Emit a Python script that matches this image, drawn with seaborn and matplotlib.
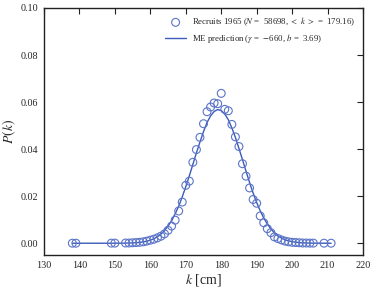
import matplotlib
matplotlib.use("Agg")
import matplotlib.pyplot as plt
import seaborn as sns
import pandas as pd

# ---- data ----
k_values = [138, 139, 149, 150, 153, 154, 155, 156, 157, 158, 159, 160, 161, 162,
            163, 164, 165, 166, 167, 168, 169, 170, 171, 172, 173, 174, 175, 176,
            177, 178, 179, 180, 181, 182, 183, 184, 185, 186, 187, 188, 189, 190,
            191, 192, 193, 194, 195, 196, 197, 198, 199, 200, 201, 202, 203, 204,
            205, 206, 209, 211]
p_observed = [0.00002, 0.00002, 0.00005, 0.00005, 0.0001, 0.0001, 0.0002, 0.0003,
              0.0004, 0.0006, 0.0009, 0.0013, 0.0017, 0.0023, 0.0030, 0.0040,
              0.0055, 0.0073, 0.0098, 0.0137, 0.0175, 0.0246, 0.0264, 0.0344,
              0.0398, 0.0450, 0.0508, 0.0559, 0.0579, 0.0596, 0.0593, 0.0637,
              0.0569, 0.0563, 0.0505, 0.0452, 0.0411, 0.0338, 0.0285, 0.0235,
              0.0186, 0.0170, 0.0116, 0.0087, 0.0062, 0.0045, 0.0027, 0.0020,
              0.0014, 0.0009, 0.0006, 0.0004, 0.0003, 0.0002, 0.0001, 0.0001,
              0.00005, 0.00005, 0.00002, 0.00002]
p_me = [0.0, 0.0, 0.000005, 0.00001, 0.00005, 0.00009, 0.00014, 0.00023, 0.00037,
        0.00058, 0.00088, 0.0013, 0.0019, 0.0027, 0.0039, 0.0054, 0.0073, 0.0095,
        0.0125, 0.0157, 0.0197, 0.0240, 0.0286, 0.0335, 0.0384, 0.0430, 0.0474,
        0.0513, 0.0541, 0.0560, 0.0568, 0.0564, 0.0549, 0.0525, 0.0490, 0.0450,
        0.0403, 0.0355, 0.0306, 0.0258, 0.0213, 0.0173, 0.0138, 0.0107, 0.0082,
        0.0061, 0.0044, 0.0031, 0.0022, 0.0015, 0.0010, 0.0007, 0.00044, 0.00028,
        0.00018, 0.00011, 0.00007, 0.00004, 0.00001, 0.0]

x_ticks = [130, 140, 150, 160, 170, 180, 190, 200, 210, 220]
y_ticks = [0.00, 0.02, 0.04, 0.06, 0.08, 0.10]

label_obs = r"Recruits 1965 ($N$ =  58698, $<$ $k$ $>$ =  179.16)"
label_me = r"ME prediction ($\gamma$ =  $-$660, $b$ =  3.69)"

df = pd.DataFrame({"k": k_values, "obs": p_observed, "me": p_me})

sns.set_style("white")
plt.rcParams["font.family"] = ["Liberation Serif", "DejaVu Serif"]
plt.rcParams["mathtext.fontset"] = "stix"

fig = plt.figure(figsize=(3.74, 2.91), dpi=100)
ax = fig.add_axes([0.1176, 0.1237, 0.853, 0.849])

point_color = "#5b74c8"
line_color = "#3a5bb8"

sns.scatterplot(data=df, x="k", y="obs", ax=ax, marker="o", s=32,
                facecolor="none", edgecolor=point_color, linewidth=0.8,
                label=label_obs, zorder=3)
sns.lineplot(data=df, x="k", y="me", ax=ax, color=line_color, linewidth=1.0,
             label=label_me, zorder=2)

ax.set_xlim(130, 220)
ax.set_ylim(-0.005, 0.10)
ax.set_xticks(x_ticks)
ax.set_yticks(y_ticks)
ax.set_xticklabels([str(t) for t in x_ticks])
ax.set_yticklabels([f"{t:.2f}" for t in y_ticks])
ax.tick_params(direction="in", top=True, right=True, length=4, width=0.8,
               labelsize=7.3, color="#222222", pad=4)
for sp in ax.spines.values():
    sp.set_linewidth(1.0)
    sp.set_color("#222222")

ax.set_xlabel(r"$k$ [cm]", fontsize=10, labelpad=2)
ax.set_ylabel(r"$P(k)$", fontsize=10, labelpad=2)

leg = ax.legend(loc="upper right", frameon=False, fontsize=6.3, handlelength=2.4,
                handletextpad=0.7, borderaxespad=0.5, labelspacing=0.45)

fig.savefig("out.png", dpi=100)
